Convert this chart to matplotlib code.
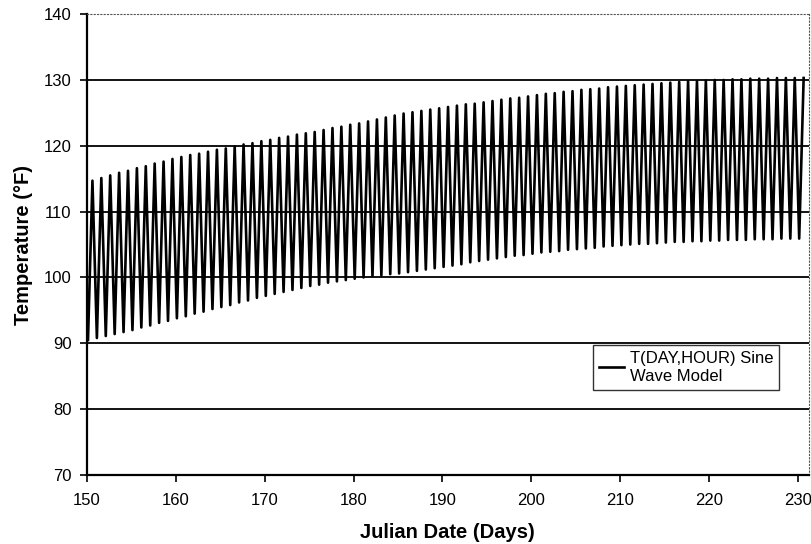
import numpy as np

from matplotlib import pyplot as plt

plt.rcParams["font.family"] = ["Liberation Sans", "DejaVu Sans"]

# Julian days shown on the chart
days = list(range(150, 231))

# daily maximum temperature (F)
daily_max = [
    114.7, 115.1, 115.5, 115.9, 116.2, 116.6, 116.9, 117.3, 117.6, 118.0,
    118.3, 118.6, 118.8, 119.1, 119.4, 119.6, 119.9, 120.2, 120.4, 120.7,
    120.9, 121.2, 121.4, 121.7, 121.9, 122.1, 122.4, 122.7, 122.9, 123.2,
    123.4, 123.7, 124.0, 124.3, 124.6, 124.9, 125.1, 125.3, 125.5, 125.7,
    125.9, 126.1, 126.3, 126.4, 126.6, 126.8, 127.0, 127.2, 127.3, 127.5,
    127.7, 127.9, 128.0, 128.2, 128.3, 128.5, 128.6, 128.7, 128.9, 129.0,
    129.1, 129.2, 129.3, 129.4, 129.5, 129.6, 129.7, 129.8, 129.8, 129.9,
    130.0, 130.0, 130.1, 130.1, 130.2, 130.2, 130.2, 130.3, 130.3, 130.3,
    130.3,
]

# daily minimum temperature (F)
daily_min = [
    90.5, 90.8, 91.1, 91.4, 91.7, 92.0, 92.4, 92.7, 93.1, 93.4,
    93.8, 94.1, 94.5, 94.8, 95.2, 95.5, 95.8, 96.2, 96.5, 96.9,
    97.2, 97.5, 97.8, 98.1, 98.4, 98.7, 98.9, 99.2, 99.4, 99.6,
    99.8, 100.0, 100.2, 100.3, 100.5, 100.6, 100.8, 101.0, 101.2, 101.4,
    101.6, 101.8, 102.0, 102.3, 102.5, 102.7, 102.9, 103.1, 103.3, 103.4,
    103.6, 103.8, 103.9, 104.0, 104.2, 104.3, 104.4, 104.5, 104.7, 104.8,
    104.9, 105.0, 105.1, 105.1, 105.2, 105.3, 105.4, 105.4, 105.5, 105.5,
    105.6, 105.6, 105.7, 105.7, 105.7, 105.8, 105.8, 105.8, 105.9, 105.9,
    105.9,
]

# hour of day of the minimum and maximum
hour_min = 3
hour_max = 15

y_ticks = [70, 80, 90, 100, 110, 120, 130, 140]
x_ticks = [150, 160, 170, 180, 190, 200, 210, 220, 230]


def build_series(days, lows, highs):
    """
    Alternate the daily lows and highs along the time axis.
    """
    t = []
    temp = []
    for d, lo, hi in zip(days, lows, highs):
        t.append(d + hour_min / 24)
        temp.append(lo)
        t.append(d + hour_max / 24)
        temp.append(hi)
    return np.array(t), np.array(temp)


t, temp = build_series(days, daily_min, daily_max)

fig = plt.figure(figsize=(8.12, 5.44), dpi=100)
ax = fig.add_axes([0.107, 0.127, 0.889, 0.847])

# horizontal gridlines
for v in y_ticks[1:-1]:
    ax.axhline(v, color="black", lw=1.3, zorder=1)

ax.plot(t, temp, color="black", lw=1.9, zorder=2,
        label="T(DAY,HOUR) Sine\nWave Model")

ax.set_xlim(150, 231.2)
ax.set_ylim(70, 140)
ax.set_xticks(x_ticks)
ax.set_yticks(y_ticks)
ax.tick_params(labelsize=12, direction="out", length=5, width=1.2,
               colors="black")
ax.tick_params(axis="x", pad=8)
ax.tick_params(axis="y", pad=6)

for side in ["left", "bottom"]:
    ax.spines[side].set_linewidth(1.6)
for side in ["top", "right"]:
    ax.spines[side].set_linestyle((0, (1, 2)))
    ax.spines[side].set_linewidth(0.8)
    ax.spines[side].set_color("#555555")

ax.set_xlabel("Julian Date (Days)", fontsize=14.5, fontweight="bold", labelpad=11)
ax.set_ylabel("Temperature (°F)", fontsize=14.5, fontweight="bold", labelpad=8)

leg = ax.legend(loc="upper left", bbox_to_anchor=(0.701, 0.282), fontsize=12,
                frameon=True, fancybox=False, edgecolor="black",
                handlelength=1.5, handletextpad=0.35, borderpad=0.35,
                borderaxespad=0)
leg.get_frame().set_linewidth(1.0)
for txt in leg.get_texts():
    txt.set_linespacing(1.25)

fig.savefig("out.png", dpi=100)
